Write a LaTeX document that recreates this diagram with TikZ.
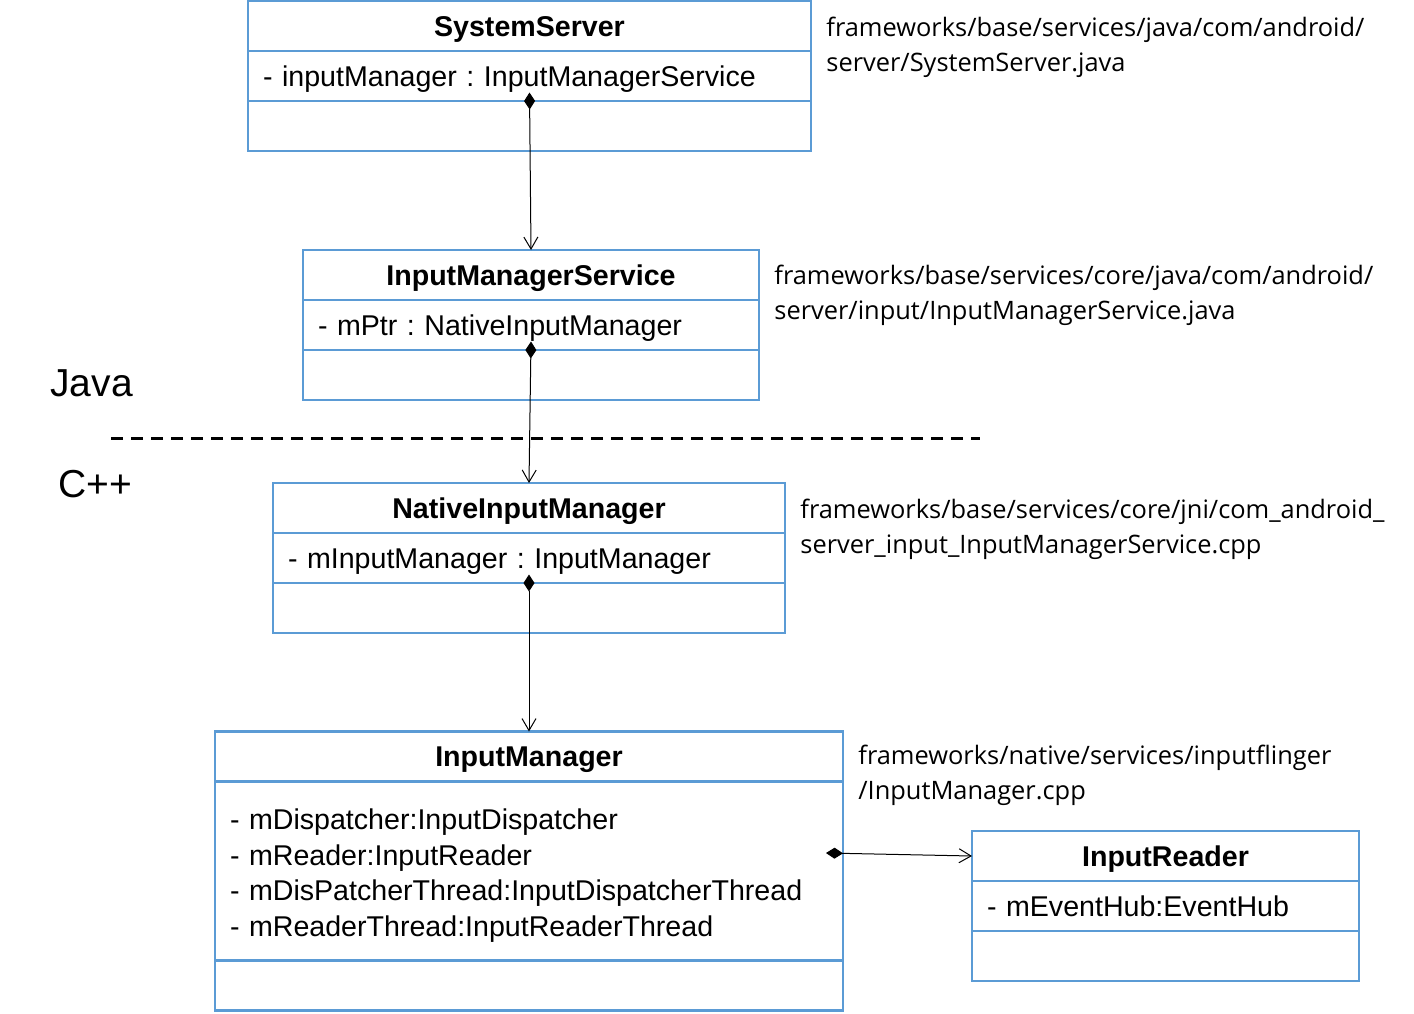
\documentclass[tikz,border=0pt]{standalone}
\usepackage{fontspec}
\setmainfont{Liberation Sans}
\newfontfamily\pathfont{Open Sans}
\frenchspacing
\definecolor{UMLblue}{RGB}{91,155,213}
\usetikzlibrary{positioning,arrows.meta}
\tikzset{
	>={Straight Barb[length=6pt,width=7pt]},
	classname/.style={
		rectangle,
		draw=UMLblue, line width=1.2pt,
		font=\fontsize{14.3}{17}\selectfont\bfseries,
		text height=12pt, text depth=2pt,
		minimum height=25pt,
		inner sep=0pt, outer sep=0pt},
	classattr/.style={
		rectangle,
		draw=UMLblue, line width=1.2pt,
		font=\fontsize{14.3}{17.8}\selectfont,
		align=left,
		minimum height=25pt,
		inner xsep=7.5pt, inner ysep=0pt, outer sep=0pt},
	classops/.style={
		rectangle,
		draw=UMLblue, line width=1.2pt,
		minimum height=25pt,
		inner sep=0pt, outer sep=0pt},
	srcpath/.style={
		anchor=north west, align=left,
		font=\pathfont\fontsize{12.7}{17.5}\selectfont,
		inner sep=0pt},
	layer/.style={font=\fontsize{19.5}{22}\selectfont, anchor=base west, inner sep=0pt},
	composes/.style={draw, line width=0.5pt, {Diamond[length=8.5pt,width=5.5pt]}->},
}

\begin{document}
\begin{tikzpicture}[x=0.5pt,y=-0.5pt]
\useasboundingbox (0,0) rectangle (1414,1013);
% SystemServer
\node[classname, minimum width=281.5pt] (ss) at (529.5,26) {SystemServer};
\node[classattr, text width=266.5pt, text height=12pt, text depth=2pt, below=0pt of ss] (ssattr) {- inputManager : InputManagerService};
\node[classops, minimum width=281.5pt, below=0pt of ssattr] (ssops) {};
\node[srcpath] (sspath) at (826,17) {frameworks/base/services/java/com/android/\\server/SystemServer.java};
% InputManagerService
\node[classname, minimum width=228pt] (ims) at (531,275) {InputManagerService};
\node[classattr, text width=213pt, text height=12pt, text depth=2pt, below=0pt of ims] (imsattr) {- mPtr : NativeInputManager};
\node[classops, minimum width=228pt, below=0pt of imsattr] (imsops) {};
\node[srcpath] (imspath) at (774,265) {frameworks/base/services/core/java/com/android/\\server/input/InputManagerService.java};
% Java / C++
\node[layer] (java) at (50,396) {Java};
\node[layer] (cpp) at (58,497) {C++};
\draw[line width=1.5pt, dash pattern=on 6pt off 4pt] (111,438) -- (980,438);
% NativeInputManager
\node[classname, minimum width=256pt] (nim) at (529,508) {NativeInputManager};
\node[classattr, text width=241pt, text height=12pt, text depth=2pt, below=0pt of nim] (nimattr) {- mInputManager : InputManager};
\node[classops, minimum width=256pt, below=0pt of nimattr] (nimops) {};
\node[srcpath] (nimpath) at (800,499) {frameworks/base/services/core/jni/com\_android\_\\server\_input\_InputManagerService.cpp};
% InputManager
\node[classname, minimum width=314pt] (im) at (529,756.5) {InputManager};
\node[classattr, text width=299pt, text height=12pt, text depth=53.4pt, minimum height=89.5pt, below=0pt of im] (imattr) {- mDispatcher:InputDispatcher\\- mReader:InputReader\\- mDisPatcherThread:InputDispatcherThread\\- mReaderThread:InputReaderThread};
\node[classops, minimum width=314pt, below=0pt of imattr] (imops) {};
\node[srcpath] (impath) at (858,745) {frameworks/native/services/inputflinger\\/InputManager.cpp};
% InputReader
\node[classname, minimum width=193.5pt] (ir) at (1165.5,856) {InputReader};
\node[classattr, text width=178.5pt, text height=12pt, text depth=2pt, below=0pt of ir] (irattr) {- mEventHub:EventHub};
\node[classops, minimum width=193.5pt, below=0pt of irattr] (irops) {};
% links
\coordinate (imlink) at (826,853);
\draw[composes] ([yshift=4.25pt]ssattr.south) -- (ims.north);
\draw[composes] ([yshift=4.25pt]imsattr.south) -- (nim.north);
\draw[composes] ([yshift=4.25pt]nimattr.south) -- (im.north);
\draw[composes] (imlink) -- (ir.west);
\end{tikzpicture}
\end{document}
